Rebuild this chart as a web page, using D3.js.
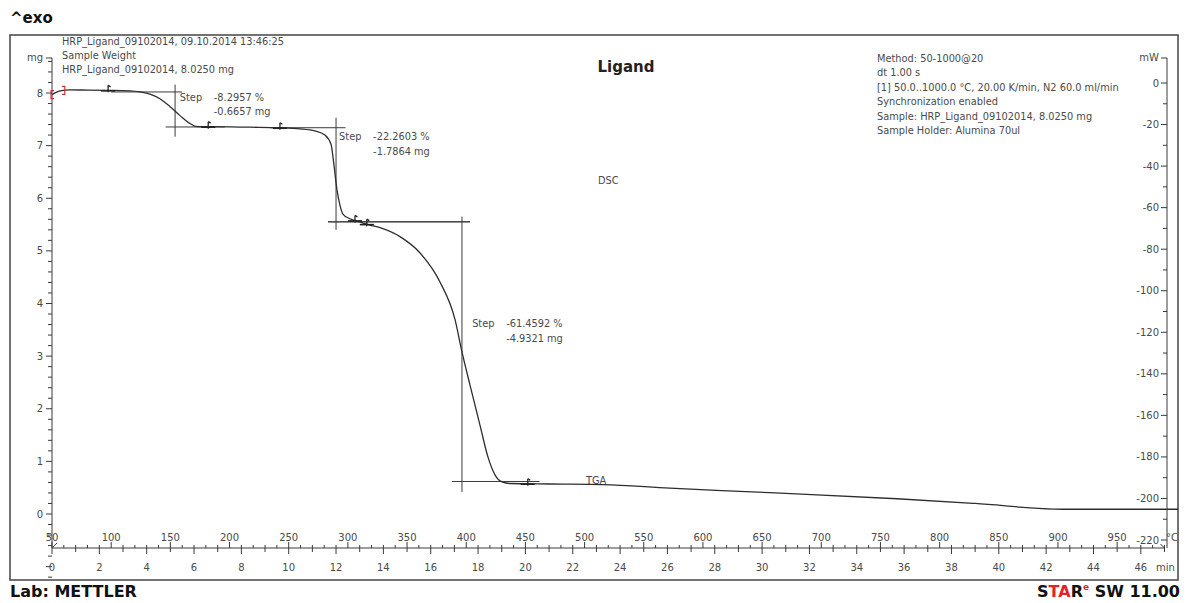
<!DOCTYPE html>
<html>
<head>
<meta charset="utf-8">
<script src="https://cdn.jsdelivr.net/npm/d3@7"></script>
<style>
  html, body { margin: 0; padding: 0; background: #fff; }
  svg { display: block; }
  text { font-family: "DejaVu Sans", Verdana, sans-serif; }
</style>
</head>
<body>
<svg id="chart" width="1188" height="603"></svg>
<script>
// TGA curve: sample weight (mg) against time (min), heating 50..1000 °C at 20 K/min
const timeMin = [0, 0.34, 0.76, 1.5, 2.37, 3.3, 3.72, 4.14, 4.56, 4.99, 5.41, 5.83, 6.13, 6.68, 8.37, 9.63, 10.48, 11.1, 11.53, 11.79, 11.91, 12.04, 12.17, 12.29, 12.59, 13.0, 13.43, 13.86, 14.7, 15.55, 16.39, 17.03, 17.32, 17.66, 18.08, 18.42, 18.72, 19.01, 19.35, 21.0, 23.28, 26.1, 29.06, 32.1, 35.7, 39.0, 42.7, 47.6];
const massMg  = [7.97, 8.04, 8.06, 8.055, 8.05, 8.04, 8.02, 7.98, 7.89, 7.74, 7.57, 7.42, 7.36, 7.36, 7.35, 7.34, 7.32, 7.28, 7.20, 7.02, 6.64, 6.16, 5.86, 5.70, 5.61, 5.55, 5.49, 5.44, 5.27, 4.96, 4.41, 3.69, 3.08, 2.45, 1.69, 1.08, 0.74, 0.61, 0.58, 0.57, 0.56, 0.49, 0.43, 0.37, 0.29, 0.20, 0.09, 0.09];

// Step evaluations
const stepTime   = [5.2, 12.0, 17.32];
const stepUpper  = [8.02, 7.34, 5.55];
const stepPct    = ["-8.2957 %", "-22.2603 %", "-61.4592 %"];
const stepMg     = [-0.6657, -1.7864, -4.9321];
const stepUpperSpan = [[2.5, 5.5], [9.2, 12.4], [11.66, 17.66]];
const stepLowerSpan = [[4.8, 7.3], [11.66, 17.66], [16.9, 20.6]];
const stepVertSpan  = [[8.16, 7.17], [7.53, 5.40], [5.65, 0.42]];
const stepLabelAt   = [[5.4, 7.85], [12.13, 7.1], [17.75, 3.55]];

// Evaluation limit markers on the curve (time, mg)
const markerTime = [2.37, 6.6, 9.63, 12.8, 13.3, 20.1];

// Axis ticks
const mgTicks   = [0, 1, 2, 3, 4, 5, 6, 7, 8];
const mwTicks   = [0, -20, -40, -60, -80, -100, -120, -140, -160, -180, -200, -220];
const tempTicks = [50, 100, 150, 200, 250, 300, 350, 400, 450, 500, 550, 600, 650, 700, 750, 800, 850, 900, 950];
const timeTicks = [0, 2, 4, 6, 8, 10, 12, 14, 16, 18, 20, 22, 24, 26, 28, 30, 32, 34, 36, 38, 40, 42, 44, 46];

// Header / method text
const headerLines = ["HRP_Ligand_09102014, 09.10.2014 13:46:25", "Sample Weight", "HRP_Ligand_09102014, 8.0250 mg"];
const methodLines = ["Method: 50-1000@20", "dt 1.00 s", "[1] 50.0..1000.0 °C, 20.00 K/min, N2 60.0 ml/min", "Synchronization enabled", "Sample: HRP_Ligand_09102014, 8.0250 mg", "Sample Holder: Alumina 70ul"];

const svg = d3.select("#chart");
const ink = "#3a3a3a", txt = "#4a4a4a";
const fs = 9.8;

const frame = {x0: 10, y0: 35, x1: 1178, y1: 580};
const axisY = 548, leftX = 52, rightX = 1167;

const x = d3.scaleLinear().domain([0, 47]).range([leftX, leftX + 47 * 23.67]);
const xT = d3.scaleLinear().domain([50, 50 + 47 * 20]).range(x.range());
const y = d3.scaleLinear().domain([0, 8]).range([514, 93]);
const yW = d3.scaleLinear().domain([0, -220]).range([83, 540]);

// Outer labels
svg.append("text").attr("x", 10).attr("y", 23).attr("font-family", "Liberation Sans, Arial").attr("font-weight", "bold").attr("font-size", 15).attr("fill", "#111").text("^exo");
svg.append("text").attr("x", 10).attr("y", 597).attr("font-family", "Liberation Sans, Arial").attr("font-weight", "bold").attr("font-size", 16).attr("fill", "#111").text("Lab: METTLER");
const star = svg.append("text").attr("x", 1180).attr("y", 597).attr("text-anchor", "end").attr("font-family", "Liberation Sans, Arial").attr("font-weight", "bold").attr("font-size", 16).attr("fill", "#111");
star.append("tspan").text("S");
star.append("tspan").attr("fill", "#e0242a").text("TA");
star.append("tspan").text("R");
star.append("tspan").attr("fill", "#e0242a").attr("font-size", 9).attr("dy", -7).text("e");
star.append("tspan").attr("dy", 7).text(" SW 11.00");

// Frame
svg.append("rect").attr("x", frame.x0).attr("y", frame.y0).attr("width", frame.x1 - frame.x0).attr("height", frame.y1 - frame.y0)
  .attr("fill", "none").attr("stroke", "#444").attr("stroke-width", 1.5);

svg.append("defs").append("clipPath").attr("id", "clip").append("rect")
  .attr("x", frame.x0).attr("y", frame.y0).attr("width", frame.x1 - frame.x0).attr("height", frame.y1 - frame.y0);

// Left axis (mg)
const gL = svg.append("g").attr("stroke", ink).attr("stroke-width", 1);
gL.append("line").attr("x1", leftX).attr("x2", leftX).attr("y1", 58).attr("y2", axisY);
d3.range(-6, 44).map(i => i / 5).forEach(v => {
  const major = Math.abs(v - Math.round(v)) < 1e-6;
  gL.append("line").attr("x1", leftX - (major ? 6 : 4)).attr("x2", leftX).attr("y1", y(v)).attr("y2", y(v));
});
gL.append("line").attr("x1", leftX - 6).attr("x2", leftX).attr("y1", 58).attr("y2", 58);
mgTicks.forEach(v => svg.append("text").attr("x", leftX - 9).attr("y", y(v) + 3.5).attr("text-anchor", "end").attr("font-size", 10).attr("fill", txt).text(v));
svg.append("text").attr("x", leftX - 9).attr("y", 61).attr("text-anchor", "end").attr("font-size", 10).attr("fill", txt).text("mg");

// Right axis (mW)
const gR = svg.append("g").attr("stroke", ink).attr("stroke-width", 1);
gR.append("line").attr("x1", rightX).attr("x2", rightX).attr("y1", 58).attr("y2", axisY);
d3.range(0, 23).map(i => -10 * i).forEach(v => {
  const major = v % 20 === 0;
  gR.append("line").attr("x1", rightX - (major ? 6 : 4)).attr("x2", rightX).attr("y1", yW(v)).attr("y2", yW(v));
});
gR.append("line").attr("x1", rightX - 6).attr("x2", rightX).attr("y1", 58).attr("y2", 58);
mwTicks.forEach(v => svg.append("text").attr("x", rightX - 8).attr("y", yW(v) + 3.5).attr("text-anchor", "end").attr("font-size", 10).attr("fill", txt).text(v));
svg.append("text").attr("x", rightX - 8).attr("y", 61).attr("text-anchor", "end").attr("font-size", 10).attr("fill", txt).text("mW");

// Bottom axis: temperature above, time below
const gB = svg.append("g").attr("stroke", ink).attr("stroke-width", 1);
gB.append("line").attr("x1", leftX).attr("x2", x(47)).attr("y1", axisY).attr("y2", axisY);
d3.range(50, 991, 10).forEach(v => {
  const major = v % 50 === 0;
  gB.append("line").attr("x1", xT(v)).attr("x2", xT(v)).attr("y1", axisY - (major ? 6 : 3)).attr("y2", axisY);
});
d3.range(0, 48, 1).forEach(v => {
  const major = v % 2 === 0;
  gB.append("line").attr("x1", x(v)).attr("x2", x(v)).attr("y1", axisY).attr("y2", axisY + (major ? 6 : 4));
});
gB.append("line").attr("x1", x(47) - 4).attr("x2", x(47)).attr("y1", axisY - 4).attr("y2", axisY);
gB.append("line").attr("x1", leftX).attr("x2", leftX + 5).attr("y1", axisY).attr("y2", axisY - 5);
tempTicks.forEach(v => svg.append("text").attr("x", xT(v)).attr("y", 541).attr("text-anchor", "middle").attr("font-size", 10).attr("fill", txt).text(v));
timeTicks.forEach(v => svg.append("text").attr("x", x(v)).attr("y", 571).attr("text-anchor", "middle").attr("font-size", 10).attr("fill", txt).text(v));
svg.append("text").attr("x", x(47) + 1).attr("y", 571).attr("text-anchor", "middle").attr("font-size", 10).attr("fill", txt).text("min");
svg.append("text").attr("x", 1172).attr("y", 541).attr("text-anchor", "middle").attr("font-size", 10).attr("fill", txt).text("°C");

// Header texts
headerLines.forEach((s, i) => svg.append("text").attr("x", 62).attr("y", 45 + i * 14).attr("font-size", fs).attr("fill", txt).text(s));
methodLines.forEach((s, i) => svg.append("text").attr("x", 877).attr("y", 62 + i * 14.4).attr("font-size", fs).attr("fill", txt).text(s));
svg.append("text").attr("x", 626).attr("y", 72).attr("text-anchor", "middle").attr("font-weight", "bold").attr("font-size", 15).attr("fill", "#222").text("Ligand");
svg.append("text").attr("x", 598).attr("y", 184).attr("font-size", fs).attr("fill", txt).text("DSC");
svg.append("text").attr("x", 586).attr("y", 484).attr("font-size", fs).attr("fill", txt).text("TGA");

// Step construction lines
const gS = svg.append("g").attr("stroke", ink).attr("stroke-width", 1);
stepTime.forEach((t, i) => {
  const up = stepUpper[i], low = stepUpper[i] + stepMg[i];
  gS.append("line").attr("x1", x(stepUpperSpan[i][0])).attr("x2", x(stepUpperSpan[i][1])).attr("y1", y(up)).attr("y2", y(up));
  gS.append("line").attr("x1", x(stepLowerSpan[i][0])).attr("x2", x(stepLowerSpan[i][1])).attr("y1", y(low)).attr("y2", y(low));
  gS.append("line").attr("x1", x(t)).attr("x2", x(t)).attr("y1", y(stepVertSpan[i][0])).attr("y2", y(stepVertSpan[i][1]));
  const [lt, lm] = stepLabelAt[i];
  svg.append("text").attr("x", x(lt)).attr("y", y(lm)).attr("font-size", fs).attr("fill", txt).text("Step");
  svg.append("text").attr("x", x(lt) + 34).attr("y", y(lm)).attr("font-size", fs).attr("fill", txt).text(stepPct[i]);
  svg.append("text").attr("x", x(lt) + 34).attr("y", y(lm) + 14.5).attr("font-size", fs).attr("fill", txt).text(stepMg[i].toFixed(4) + " mg");
});

// TGA curve
const line = d3.line().x((d, i) => x(timeMin[i])).y(d => y(d)).curve(d3.curveMonotoneX);
svg.append("path").datum(massMg).attr("clip-path", "url(#clip)").attr("fill", "none").attr("stroke", "#2e2e2e").attr("stroke-width", 1.3).attr("d", line);

// Limit markers on curve
const massAt = t => {
  const i = d3.bisectRight(timeMin, t) - 1;
  const f = (t - timeMin[i]) / (timeMin[i + 1] - timeMin[i]);
  return massMg[i] + f * (massMg[i + 1] - massMg[i]);
};
const gM = svg.append("g").attr("stroke", "#222").attr("stroke-width", 1.3);
markerTime.forEach(t => {
  const px = x(t), py = y(massAt(t));
  gM.append("line").attr("x1", px).attr("x2", px).attr("y1", py - 5).attr("y2", py + 2);
  gM.append("line").attr("x1", px).attr("x2", px + 2.5).attr("y1", py - 5).attr("y2", py - 3.5);
  gM.append("line").attr("x1", px - 7).attr("x2", px + 7).attr("y1", py + 0.5).attr("y2", py + 0.5).attr("stroke-width", 1.6);
});

// Red evaluation brackets at start
const gRed = svg.append("g").attr("stroke", "#d23030").attr("stroke-width", 1.2).attr("fill", "none");
const b0x = x(0), b0y = y(massMg[0]);
gRed.append("path").attr("d", `M${b0x + 2},${b0y - 4} h-3 v8 h3`);
const b1x = x(0.5), b1y = y(8.05);
gRed.append("path").attr("d", `M${b1x - 2},${b1y - 4} h3 v8 h-3`);
</script>
</body>
</html>
